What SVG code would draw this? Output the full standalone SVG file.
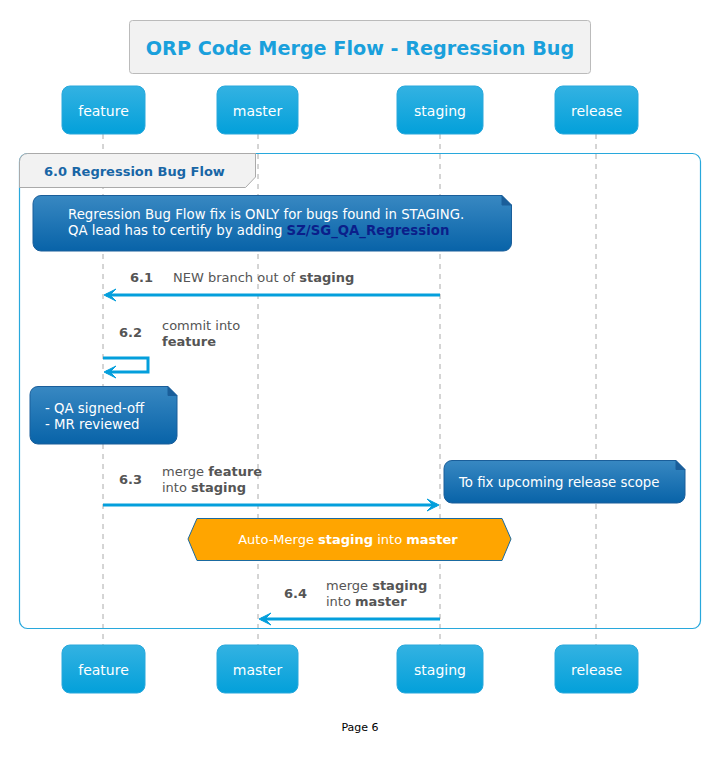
<svg xmlns="http://www.w3.org/2000/svg" width="710" height="770" viewBox="0 0 710 770">
<defs>
<linearGradient id="pg" x1="0" y1="0" x2="0" y2="1"><stop offset="0" stop-color="#33b2e2"/><stop offset="1" stop-color="#03a0da"/></linearGradient>
<linearGradient id="ng" x1="0" y1="0" x2="0" y2="1"><stop offset="0" stop-color="#3888c2"/><stop offset="1" stop-color="#0863a8"/></linearGradient>
<style>
text{font-family:"DejaVu Sans","Open Sans",sans-serif;}
.ptxt{fill:#fff;font-size:14px;text-anchor:middle;}
.part{fill:url(#pg);stroke:#28a8dc;stroke-width:1;}
.life{stroke:#aaa;stroke-width:1;stroke-dasharray:5,5;}
.note{fill:url(#ng);stroke:#1a5e9a;stroke-width:1;}
.ntxt{fill:#fff;font-size:13.3px;}
.msg{stroke:#049fdc;stroke-width:3;fill:none;}
.head{fill:#049fdc;stroke:#049fdc;stroke-width:1;}
.lbl{fill:#555;font-size:13px;}
.num{fill:#555;font-size:13px;font-weight:bold;}
</style>
</defs>
<rect width="710" height="770" fill="#fff"/>
<g id="title">
<rect x="129.5" y="20.5" width="461" height="53" rx="3" fill="#f2f2f2" stroke="#bbb"/>
<text x="360" y="55" text-anchor="middle" font-size="19.2" font-weight="bold" fill="#1aa0dc">ORP Code Merge Flow - Regression Bug</text>
</g>
<g id="lifelines">
<line class="life" x1="103" y1="134" x2="103" y2="645"/>
<line class="life" x1="258" y1="134" x2="258" y2="645"/>
<line class="life" x1="440" y1="134" x2="440" y2="645"/>
<line class="life" x1="596" y1="134" x2="596" y2="645"/>
</g>
<g id="group-6-0">
<rect x="19.5" y="153.5" width="681" height="475" rx="8" fill="none" stroke="#28a8dc" stroke-width="1.2"/>
<path d="M27.5,153.5 H255.5 V177 L245.5,187.5 H19.5 V161.5 A8,8 0 0 1 27.5,153.5 Z" fill="#f2f2f2" stroke="#aaa"/>
<text x="44" y="176" font-size="13" font-weight="bold" fill="#1866a6">6.0 Regression Bug Flow</text>
</g>
<g id="participant-feature"><rect class="part" x="62" y="86" width="83" height="48" rx="8"/><text class="ptxt" x="103.5" y="116">feature</text></g>
<g id="participant-master"><rect class="part" x="217" y="86" width="81" height="48" rx="8"/><text class="ptxt" x="257.5" y="116">master</text></g>
<g id="participant-staging"><rect class="part" x="397" y="86" width="86" height="48" rx="8"/><text class="ptxt" x="440" y="116">staging</text></g>
<g id="participant-release"><rect class="part" x="555" y="86" width="83" height="48" rx="8"/><text class="ptxt" x="596.5" y="116">release</text></g>
<g id="participant-feature-bottom"><rect class="part" x="62" y="645" width="83" height="48" rx="8"/><text class="ptxt" x="103.5" y="675">feature</text></g>
<g id="participant-master-bottom"><rect class="part" x="217" y="645" width="81" height="48" rx="8"/><text class="ptxt" x="257.5" y="675">master</text></g>
<g id="participant-staging-bottom"><rect class="part" x="397" y="645" width="86" height="48" rx="8"/><text class="ptxt" x="440" y="675">staging</text></g>
<g id="participant-release-bottom"><rect class="part" x="555" y="645" width="83" height="48" rx="8"/><text class="ptxt" x="596.5" y="675">release</text></g>
<g id="note-regression">
<path class="note" d="M41,195.5 H502 L511.5,205 V243 A8,8 0 0 1 503.5,251 H41 A8,8 0 0 1 33,243 V203.5 A8,8 0 0 1 41,195.5 Z"/>
<path d="M502,195.5 V205 H511.5" fill="#1a5e9a" stroke="#1a5e9a"/>
<text class="ntxt" x="68" y="219">Regression Bug Flow fix is ONLY for bugs found in STAGING.</text>
<text class="ntxt" x="68" y="235">QA lead has to certify by adding <tspan font-weight="bold" fill="#0b1f8a">SZ/SG_QA_Regression</tspan></text>
</g>
<g id="note-qa">
<path class="note" d="M38,386.5 H168 L177,395.5 V436 A8,8 0 0 1 169,444 H38 A8,8 0 0 1 30,436 V394.5 A8,8 0 0 1 38,386.5 Z"/>
<path d="M168,386.5 V395.5 H177" fill="#1a5e9a" stroke="#1a5e9a"/>
<text class="ntxt" x="45" y="413">- QA signed-off</text>
<text class="ntxt" x="45" y="429">- MR reviewed</text>
</g>
<g id="note-release">
<path class="note" d="M452,460.5 H676 L685,469.5 V495 A8,8 0 0 1 677,503 H452 A8,8 0 0 1 444,495 V468.5 A8,8 0 0 1 452,460.5 Z"/>
<path d="M676,460.5 V469.5 H685" fill="#1a5e9a" stroke="#1a5e9a"/>
<text class="ntxt" x="459" y="487">To fix upcoming release scope</text>
</g>
<g id="divider-automerge">
<polygon points="188,539 197,518.5 502,518.5 511,539 502,560.5 197,560.5" fill="#ffa500" stroke="#1a6aa0" stroke-width="1"/>
<text x="348" y="544" text-anchor="middle" font-size="13" fill="#fff">Auto-Merge <tspan font-weight="bold">staging</tspan> into <tspan font-weight="bold">master</tspan></text>
</g>
<g id="connectors">
<line class="msg" x1="440" y1="295" x2="106" y2="295"/>
<polygon class="head" points="104,295 116,289 110,295 116,301"/>
<text class="num" x="130" y="282">6.1</text>
<text class="lbl" x="173" y="282">NEW branch out of <tspan font-weight="bold">staging</tspan></text>

<polyline class="msg" points="103,358 148,358 148,372 106,372"/>
<polygon class="head" points="104,372 116,366 110,372 116,378"/>
<text class="num" x="119" y="337">6.2</text>
<text class="lbl" x="162" y="330">commit into</text>
<text class="lbl" x="162" y="346" font-weight="bold">feature</text>

<line class="msg" x1="103" y1="505" x2="437" y2="505"/>
<polygon class="head" points="439,505 427,499 433,505 427,511"/>
<text class="num" x="119" y="484">6.3</text>
<text class="lbl" x="162" y="476">merge <tspan font-weight="bold">feature</tspan></text>
<text class="lbl" x="162" y="492">into <tspan font-weight="bold">staging</tspan></text>

<line class="msg" x1="440" y1="619" x2="261" y2="619"/>
<polygon class="head" points="259,619 271,613 265,619 271,625"/>
<text class="num" x="284" y="598">6.4</text>
<text class="lbl" x="326" y="590">merge <tspan font-weight="bold">staging</tspan></text>
<text class="lbl" x="326" y="606">into <tspan font-weight="bold">master</tspan></text>
</g>
<text x="360" y="731" text-anchor="middle" font-size="11" fill="#000" font-family="DejaVu Sans,sans-serif">Page 6</text>
</svg>
